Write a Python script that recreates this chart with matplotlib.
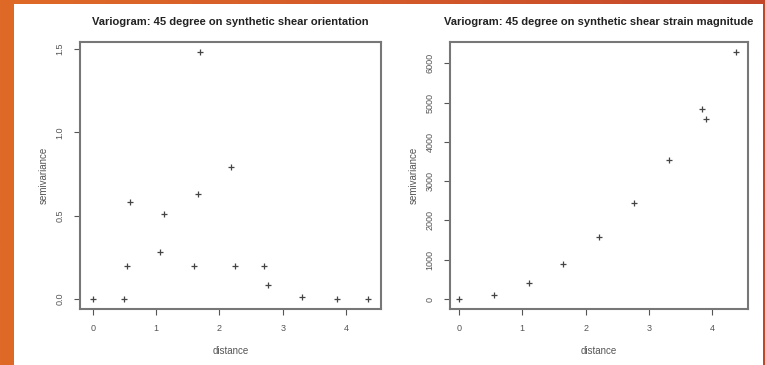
import numpy as np
import matplotlib.pyplot as plt
from matplotlib.patches import Rectangle
from matplotlib.colors import LinearSegmentedColormap

plt.rcParams['font.family'] = ['Liberation Sans', 'DejaVu Sans']

# semivariogram, shear orientation
dist_orient = [0.0, 0.49, 0.54, 0.59, 1.07, 1.12, 1.60, 1.66, 1.70, 2.19,
               2.24, 2.71, 2.76, 3.30, 3.86, 4.35]
gamma_orient = [0.0, 0.0, 0.20, 0.58, 0.28, 0.51, 0.20, 0.63, 1.48, 0.79,
                0.20, 0.20, 0.084, 0.014, 0.0, 0.0]

# semivariogram, shear strain magnitude
dist_mag = [0.0, 0.56, 1.11, 1.65, 2.21, 2.76, 3.31, 3.84, 3.89, 4.37]
gamma_mag = [0, 100, 415, 900, 1590, 2450, 3540, 4830, 4570, 6290]

titles = ["Variogram: 45 degree on synthetic shear orientation",
          "Variogram: 45 degree on synthetic shear strain magnitude"]
xticks = [0, 1, 2, 3, 4]
yticks_orient = [0.0, 0.5, 1.0, 1.5]
yticks_mag = [0, 1000, 2000, 3000, 4000, 5000, 6000]

W, H = 765, 365
fig = plt.figure(figsize=(W / 100, H / 100), dpi=100)

# slide background: orange gradient with white panel
bg = fig.add_axes([0, 0, 1, 1])
grad = np.linspace(0, 1, 256)[None, :]
cmap = LinearSegmentedColormap.from_list("slide", ["#df6a27", "#d45a2b", "#c4472a"])
bg.imshow(grad, aspect='auto', cmap=cmap, extent=[0, 1, 0, 1])
bg.add_patch(Rectangle((14 / W, 0), (763 - 14) / W, (365 - 4) / H,
                       facecolor='white', edgecolor='none'))
bg.set_xlim(0, 1)
bg.set_ylim(0, 1)
bg.axis('off')


def px_axes(x0, y0, x1, y1):
    return fig.add_axes([x0 / W, 1 - y1 / H, (x1 - x0) / W, (y1 - y0) / H])


ax1 = px_axes(80, 42, 381, 309)
ax2 = px_axes(450, 42, 748, 309)

grey = '#555555'
for ax, d, g, title, yt in [
        (ax1, dist_orient, gamma_orient, titles[0], yticks_orient),
        (ax2, dist_mag, gamma_mag, titles[1], yticks_mag)]:
    ax.plot(d, g, linestyle='none', marker='+', markersize=5,
            markeredgewidth=0.9, color='#444444')
    ax.set_xticks(xticks)
    ax.set_yticks(yt)
    ax.set_yticklabels([str(v) for v in yt], rotation=90, va='center')
    ax.tick_params(direction='out', length=4, width=0.8, colors=grey,
                   labelsize=6.5, pad=7)
    for s in ax.spines.values():
        s.set_color('#777777')
        s.set_linewidth(1.5)
    ax.set_xlabel("distance", fontsize=7, color=grey, labelpad=9)
    ax.set_ylabel("semivariance", fontsize=7, color=grey, labelpad=5)
    ax.set_title(title, fontsize=8, fontweight='bold', color='#222222', pad=12)

ax1.set_xlim(-0.2, 4.55)
ax1.set_ylim(-0.06, 1.542)
ax2.set_xlim(-0.14, 4.56)
ax2.set_ylim(-254, 6540)

fig.savefig("out.png", dpi=100)
